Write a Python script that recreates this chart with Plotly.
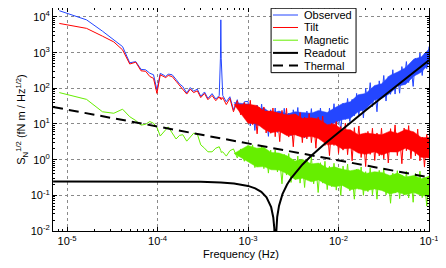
import plotly.graph_objects as go

# ---------------- data ----------------
freq_low = [8.2e-6, 1.64e-5, 2.46e-5, 3.28e-5, 4.1e-5, 4.92e-5, 5.74e-5,
            6.56e-5, 7.38e-5, 8.2e-5, 9.02e-5, 9.84e-5]
freq_mid = [1.07e-4, 1.15e-4, 1.23e-4, 1.31e-4, 1.45e-4, 1.6e-4, 1.75e-4,
            1.9e-4, 2.1e-4, 2.3e-4, 2.5e-4, 2.75e-4, 3.0e-4, 3.3e-4, 3.6e-4,
            4.0e-4, 4.4e-4, 4.8e-4, 4.95e-4, 5.0e-4, 5.05e-4, 5.25e-4,
            5.75e-4, 6.3e-4, 6.9e-4, 7.6e-4, 8.3e-4, 9.1e-4]
mantissa = [1.000, 1.059, 1.122, 1.189, 1.259, 1.334, 1.413, 1.496, 1.585, 1.679,
            1.778, 1.884, 1.995, 2.113, 2.239, 2.371, 2.512, 2.661, 2.818, 2.985,
            3.162, 3.350, 3.548, 3.758, 3.981, 4.217, 4.467, 4.732, 5.012, 5.309,
            5.623, 5.957, 6.310, 6.683, 7.079, 7.499, 7.943, 8.414, 8.913, 9.441]
freq_high = [m * 1e-3 for m in mantissa] + [m * 1e-2 for m in mantissa] + [0.1]
freq = freq_low + freq_mid + freq_high

observed_low = [15000, 8300, 4000, 2300, 1480, 520, 560, 340, 330, 265, 240, 90]
observed_mid = [263, 240, 214, 251, 240, 178, 132, 112, 74, 105, 83, 95, 60, 79,
                52, 71, 50, 63, 700, 8300, 700, 63, 42, 58, 25, 48, 20, 42]
observed_high = [43, 8.9, 30, 6.6, 34, 11, 36, 7.6, 19.5, 4.5,
                 25, 7.9, 28, 5.8, 22, 7.0, 27.5, 5.9, 20, 4.7,
                 25, 8.6, 29, 6.3, 17, 4.1, 23, 7.4, 27, 5.5,
                 21, 7.1, 28, 6.3, 21, 5.1, 28, 10, 37, 8.3,
                 24, 6.3, 38, 13.5, 52, 11.7, 49, 17, 72, 17.4,
                 66, 14.8, 100, 35, 144, 30, 96, 22, 162, 51,
                 229, 44, 214, 68, 331, 69, 269, 73, 407, 158,
                 562, 145, 417, 113, 692, 251, 977, 229, 955, 355,
                 1480]

tilt_low = [6600, 4800, 2900, 2000, 1200, 480, 540, 310, 300, 215, 190, 72]
tilt_mid = [240, 214, 200, 229, 214, 158, 120, 100, 69, 95, 76, 85, 55, 72,
            48, 63, 45, 58, 50, 56, 48, 55, 35, 52, 22, 45, 18, 40]
tilt_high = [14.6, 46, 9.6, 24, 5.3, 29, 8.7, 30, 5.6, 21,
             5.5, 28, 4.4, 18.6, 3.2, 24, 6.5, 27.5, 4.3, 13.8,
             2.3, 19, 4.7, 21, 3.0, 15.5, 3.8, 19.5, 3.0, 12.6,
             2.1, 15.5, 4.1, 16.6, 2.5, 7.9, 1.3, 10.5, 2.5, 11.7,
             1.5, 8.5, 1.85, 10.5, 1.38, 6.4, 0.93, 7.9, 1.9, 8.8,
             1.15, 4.2, 0.64, 6.2, 1.41, 7.6, 0.95, 5.6, 1.28, 7.6,
             1.05, 5.2, 0.81, 7.4, 1.9, 9.4, 1.3, 4.9, 0.77, 7.7,
             1.78, 9.0, 1.06, 6.0, 1.28, 7.2, 0.93, 4.3, 0.62, 5.1,
             1.2]

magnetic_low = [76, 49, 22, 20, 26, 16, 12.5, 9.3, 9.8, 11.7, 10.5, 8]
magnetic_mid = [4.6, 5.6, 7.1, 8.3, 5.6, 3.8, 4.8, 5.0, 3.3, 4.2, 5.5, 5.2, 2.6,
                2.1, 1.66, 1.66, 2.1, 2.3, 2.0, 1.8, 1.6, 1.66, 1.26, 1.78, 2.0,
                1.12, 2.0, 0.9]
magnetic_high = [2.45, 0.84, 2.6, 0.6, 2.0, 0.68, 2.3, 0.56, 1.62, 0.42,
                 1.86, 0.67, 1.9, 0.45, 1.05, 0.21, 1.4, 0.37, 1.48, 0.23,
                 1.02, 0.28, 1.26, 0.22, 0.86, 0.166, 1.05, 0.31, 1.19, 0.21,
                 0.63, 0.12, 0.82, 0.22, 0.9, 0.145, 0.65, 0.175, 0.79, 0.14,
                 0.53, 0.10, 0.66, 0.195, 0.75, 0.134, 0.40, 0.078, 0.54, 0.148,
                 0.62, 0.10, 0.46, 0.127, 0.58, 0.104, 0.40, 0.078, 0.50, 0.149,
                 0.57, 0.103, 0.31, 0.06, 0.42, 0.116, 0.49, 0.081, 0.37, 0.102,
                 0.47, 0.084, 0.325, 0.064, 0.41, 0.123, 0.475, 0.086, 0.256, 0.05,
                 0.35]

observed = observed_low + observed_mid + observed_high
tilt = tilt_low + tilt_mid + tilt_high
magnetic = magnetic_low + magnetic_mid + magnetic_high

# dense core of the noisy bands (upper / lower edges)
band_freq = [7e-4, 1e-3, 1.25e-3, 1.5e-3, 1.8e-3, 2.2e-3, 2.7e-3, 3.3e-3, 4e-3,
             5e-3, 6e-3, 7.5e-3, 9e-3, 1.1e-2, 1.35e-2, 1.65e-2, 2e-2, 2.5e-2,
             3e-2, 3.7e-2, 4.5e-2, 5.5e-2, 6.8e-2, 8.2e-2, 1e-1]
observed_band_hi = [40, 36, 26, 28, 20, 23, 19, 22, 21, 20, 24, 21, 28, 37, 42,
                    66, 72, 120, 135, 229, 288, 380, 660, 759, 1260]
observed_band_lo = [40, 12.9, 9.1, 9.5, 7.4, 8.9, 7.4, 7.1, 8.3, 6.8, 7.9, 7.8,
                    10.7, 13.2, 14.5, 22, 26, 47, 52, 72, 115, 129, 219, 282, 479]
tilt_band_hi = [35, 36, 33, 23, 23, 19.8, 17.5, 19.1, 14.2, 14.9, 13.7, 9.6, 10,
                7.0, 6.9, 5.0, 5.6, 5.2, 5.0, 6.3, 5.5, 7.0, 6.0, 4.2, 4.2]
tilt_band_lo = [35, 10.5, 10.1, 7.1, 5.7, 6.3, 4.7, 5.0, 4.2, 4.5, 3.9, 2.6, 2.7,
                2.0, 2.1, 1.53, 1.41, 1.66, 1.35, 1.65, 1.63, 2.1, 1.69, 1.16, 1.12]
magnetic_band_hi = [1.5, 2.5, 2.1, 2.2, 1.6, 1.54, 1.28, 0.92, 1.02, 0.76, 0.80,
                    0.58, 0.63, 0.54, 0.49, 0.54, 0.41, 0.46, 0.44, 0.36, 0.42,
                    0.325, 0.36, 0.29, 0.34]
magnetic_band_lo = [1.5, 0.87, 0.62, 0.64, 0.52, 0.51, 0.40, 0.28, 0.30, 0.24, 0.27,
                    0.198, 0.175, 0.19, 0.144, 0.155, 0.134, 0.151, 0.137, 0.109,
                    0.123, 0.103, 0.121, 0.099, 0.093]

readout_freq = [7e-6, 1e-5, 1e-4, 3e-4, 5e-4, 7e-4, 1e-3, 1.2e-3, 1.4e-3, 1.6e-3,
                1.8e-3, 1.9e-3, 1.95e-3, 1.98e-3, 1.995e-3, 2.0e-3, 2.005e-3,
                2.02e-3, 2.05e-3, 2.1e-3, 2.2e-3, 2.4e-3, 2.7e-3, 3e-3, 4e-3,
                5e-3, 7e-3, 1e-2, 2e-2, 5e-2, 1e-1]
readout = [0.245, 0.245, 0.244, 0.2395, 0.2297, 0.215, 0.184, 0.157, 0.125, 0.088,
           0.0465, 0.0239, 0.0121, 0.0049, 0.0012, 0.001, 0.0012,
           0.0049, 0.0124, 0.0251, 0.0515, 0.108, 0.2015, 0.306, 0.735,
           1.286, 2.756, 5.88, 24.26, 152.9, 612.3]

thermal_freq = [7e-6, 0.1]
thermal = [30, 0.32]

x_tick_exp = [-5, -4, -3, -2, -1]
y_tick_exp = [-2, -1, 0, 1, 2, 3, 4]

legend_names = ["Observed", "Tilt", "Magnetic", "Readout", "Thermal"]

# ---------------- styles ----------------
C_OBS = "#2446ff"
C_TILT = "#ff0000"
C_MAG = "#66ee00"
FONT = "Liberation Sans, Arial, Helvetica, sans-serif"

fig = go.Figure()


def add_series(name, y, hi, lo, color):
    fig.add_trace(go.Scatter(x=band_freq + band_freq[::-1], y=hi + lo[::-1],
                             mode="lines", fill="toself", fillcolor=color,
                             line=dict(width=0.5, color=color), hoverinfo="skip",
                             showlegend=False))
    fig.add_trace(go.Scatter(x=freq, y=y, mode="lines", name=name,
                             line=dict(color=color, width=1)))


add_series("Observed", observed, observed_band_hi, observed_band_lo, C_OBS)
add_series("Tilt", tilt, tilt_band_hi, tilt_band_lo, C_TILT)
add_series("Magnetic", magnetic, magnetic_band_hi, magnetic_band_lo, C_MAG)
fig.add_trace(go.Scatter(x=readout_freq, y=readout, mode="lines", name="Readout",
                         line=dict(color="black", width=2)))
fig.add_trace(go.Scatter(x=thermal_freq, y=thermal, mode="lines", name="Thermal",
                         line=dict(color="black", width=2, dash="10px,6px")))

x_minor = [m * 10.0 ** e for e in range(-6, -1) for m in range(2, 10)]
y_minor = [m * 10.0 ** e for e in range(-2, 5) for m in range(2, 10)]

axis_common = dict(
    type="log", showline=True, linecolor="black", linewidth=1,
    mirror="allticks", ticks="inside", ticklen=4, tickcolor="black",
    showgrid=True, gridcolor="#8a8a8a", griddash="dot", gridwidth=1,
    zeroline=False, automargin=False,
    tickfont=dict(family=FONT, size=11, color="black"),
)

fig.update_xaxes(
    **axis_common,
    range=[-5.156, -1],
    tickmode="array",
    tickvals=[10.0 ** e for e in x_tick_exp],
    ticktext=["10<sup>%d</sup>" % e for e in x_tick_exp],
    minor=dict(tickmode="array", tickvals=x_minor, ticks="inside", ticklen=2,
               tickcolor="black", showgrid=False),
    title=dict(text="Frequency (Hz)", font=dict(family=FONT, size=11, color="black"),
               standoff=4),
)
fig.update_yaxes(
    **axis_common,
    range=[-2, 4.252],
    tickmode="array",
    tickvals=[10.0 ** e for e in y_tick_exp],
    ticktext=["10<sup>%d</sup>" % e for e in y_tick_exp],
    minor=dict(tickmode="array", tickvals=y_minor, ticks="inside", ticklen=2,
               tickcolor="black", showgrid=False),
    title=dict(text="S<sub>N</sub><sup>1/2</sup> (fN m / Hz<sup>1/2</sup>)",
               font=dict(family=FONT, size=11, color="black"), standoff=2),
)

# ---------------- legend (drawn as a MATLAB-style box) ----------------
lx0, lx1, ly0, ly1 = 0.580, 0.806, 0.710, 0.999
fig.add_shape(type="rect", xref="paper", yref="paper", x0=lx0, x1=lx1, y0=ly0, y1=ly1,
              fillcolor="white", line=dict(color="black", width=1), layer="above")
item_y = [0.9686, 0.9126, 0.8556, 0.7987, 0.7417]
item_style = [dict(color=C_OBS, width=1), dict(color=C_TILT, width=1),
              dict(color=C_MAG, width=1), dict(color="black", width=2),
              dict(color="black", width=2, dash="10px,6px")]
for name, yy, st in zip(legend_names, item_y, item_style):
    fig.add_shape(type="line", xref="paper", yref="paper", x0=0.5851, x1=0.6516,
                  y0=yy, y1=yy, line=st, layer="above")
    fig.add_annotation(xref="paper", yref="paper", x=0.6622, y=yy, text=name,
                       showarrow=False, xanchor="left", yanchor="middle",
                       font=dict(family=FONT, size=11, color="black"))

# the page body adds an 8px offset; the figure is sized to land the axes
# box where the reference has it inside the 446x268 window
fig.update_layout(
    width=438, height=260,
    margin=dict(l=45, r=17, t=0, b=37),
    paper_bgcolor="white", plot_bgcolor="white",
    showlegend=False,
    font=dict(family=FONT, size=11, color="black"),
)

fig.write_html("out.html")
